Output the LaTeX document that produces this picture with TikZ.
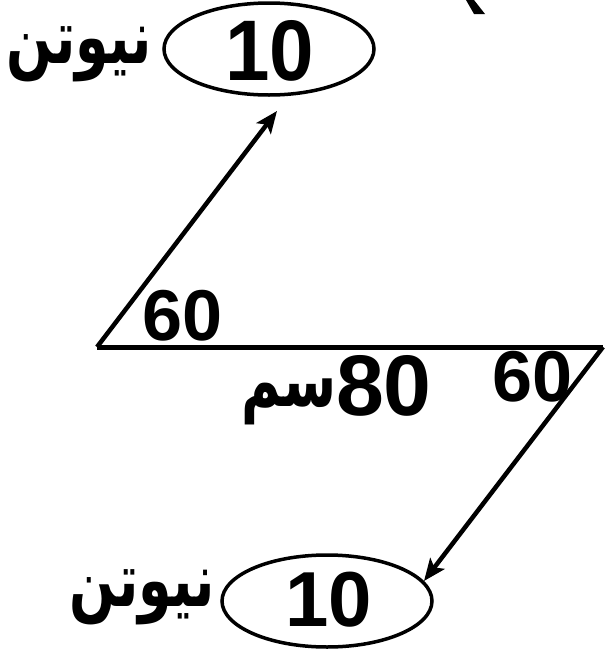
\documentclass[tikz,border=0pt]{standalone}
\usepackage{fontspec}
\setmainfont{Liberation Sans}
\newfontfamily\arabicfont[Script=Arabic]{DejaVu Sans}
\TeXXeTstate=1
\usetikzlibrary{arrows.meta,shapes.geometric}
\tikzset{
  oval/.style={ellipse, draw, line width=3.5pt, minimum width=210pt, minimum height=92pt, inner sep=0pt},
  num/.style={font=\bfseries\fontsize{78}{78}\selectfont, inner sep=0pt},
  bignum/.style={font=\bfseries\fontsize{86}{86}\selectfont, inner sep=0pt},
  ang/.style={font=\bfseries\fontsize{72}{72}\selectfont, inner sep=0pt},
  arab/.style={font=\arabicfont\bfseries\fontsize{54}{54}\selectfont, inner sep=0pt, yscale=1.4},
  vec/.style={line width=4.5pt, -{Stealth[length=22pt,width=18pt,inset=5pt]}},
  bar/.style={line width=5pt}
}
\begin{document}
\begin{tikzpicture}[x=1pt,y=-1pt]
\useasboundingbox (0,0) rectangle (605,662);
% top ellipse
\node[oval] (e1) at (269,49) {};
\node[bignum, xscale=0.93] (n1) at (270,51) {10};
\node[arab] (a1) at (79,54) {\beginR نيوتن\endR};
% bottom ellipse
\node[oval] (e2) at (327,601) {};
\node[num] (n2) at (329,600) {10};
\node[arab] (a2) at (142,597) {\beginR نيوتن\endR};
% base line and vectors
\coordinate (L) at (97,347);
\coordinate (R) at (603,347);
\coordinate (T1) at (277,111);
\coordinate (T2) at (424,581);
\draw[bar] (L) -- (R);
\draw[vec] (L) -- (T1);
\draw[vec] (R) -- (T2);
% labels
\node[ang] (g1) at (183,316) {60};
\node[ang] (g2) at (533,377) {60};
\node[bignum] (d) at (384,386) {80};
\node[arab] (cm) at (289,402) {\beginR سم\endR};
% cut-off glyph at top
\fill (466,0) -- (474,0) -- (485,14) -- (474,14) -- cycle;
\end{tikzpicture}
\end{document}
